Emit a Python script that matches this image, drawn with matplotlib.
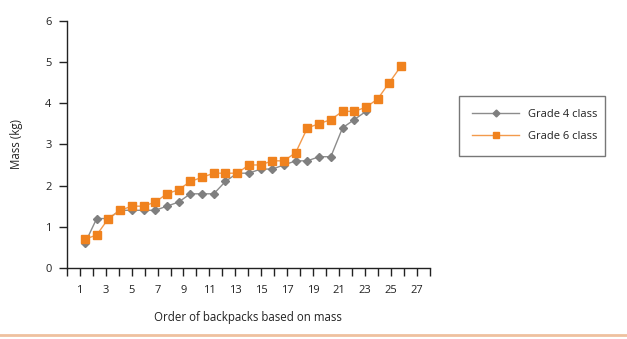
import matplotlib
matplotlib.use("Agg")
import matplotlib.pyplot as plt
from matplotlib.lines import Line2D

plt.rcParams['font.family'] = ['Open Sans', 'DejaVu Sans']

grade4 = [0.6, 1.2, 1.2, 1.4, 1.4, 1.4, 1.4, 1.5, 1.6, 1.8, 1.8, 1.8, 2.1,
          2.3, 2.3, 2.4, 2.4, 2.5, 2.6, 2.6, 2.7, 2.7, 3.4, 3.6, 3.8]
grade6 = [0.7, 0.8, 1.2, 1.4, 1.5, 1.5, 1.6, 1.8, 1.9, 2.1, 2.2, 2.3, 2.3, 2.3,
          2.5, 2.5, 2.6, 2.6, 2.8, 3.4, 3.5, 3.6, 3.8, 3.8, 3.9, 4.1, 4.5, 4.9]
xticks = list(range(0, 29))
xticklabels = [str(t) if t % 2 == 1 else "" for t in xticks]
yticks = [0, 1, 2, 3, 4, 5, 6]
labels = ["Grade 4 class", "Grade 6 class"]

grey_line = "#8c8c8c"
grey_mark = "#7f7f7f"
orange_line = "#f39a4c"
orange_mark = "#f0821e"
txt = "#222222"

fig = plt.figure(figsize=(6.27, 3.39), dpi=100)
ax = fig.add_axes([0.1064, 0.2094, 0.5794, 0.7296])
ax.set_xlim(0, 28)
ax.set_ylim(0, 6)
ax.set_xticks(xticks)
ax.set_xticklabels(xticklabels)
ax.set_yticks(yticks)
for s in ["top", "right"]:
    ax.spines[s].set_visible(False)
for s in ["left", "bottom"]:
    ax.spines[s].set_color("#222222")
    ax.spines[s].set_linewidth(1.0)
ax.tick_params(axis="both", direction="out", length=6, width=1.0,
               color="#222222", labelsize=8, labelcolor=txt)
ax.tick_params(axis="x", pad=6)
ax.tick_params(axis="y", pad=5)
ax.set_xlabel("Order of backpacks based on mass", fontsize=8.3, color=txt, labelpad=11)
ax.set_ylabel("Mass (kg)", fontsize=8.3, color=txt, labelpad=16)

# data drawn on a companion x-scale (the points are not aligned to the ticks)
ax2 = ax.twiny()
ax2.set_xlim(-0.56, 30.47)
ax2.set_ylim(0, 6)
ax2.axis("off")
x4 = list(range(1, len(grade4) + 1))
x6 = list(range(1, len(grade6) + 1))
ax2.plot(x4, grade4, color=grey_line, lw=1.0, marker="D", markersize=4.2,
         markerfacecolor=grey_mark, markeredgecolor=grey_mark, zorder=3)
ax2.plot(x6, grade6, color=orange_line, lw=1.0, marker="s", markersize=5.5,
         markerfacecolor=orange_mark, markeredgecolor=orange_mark, zorder=4)

handles = [
    Line2D([], [], color=grey_line, lw=1.0, marker="D", markersize=3.5,
           markerfacecolor=grey_mark, markeredgecolor=grey_mark),
    Line2D([], [], color=orange_line, lw=1.0, marker="s", markersize=5,
           markerfacecolor=orange_mark, markeredgecolor=orange_mark),
]
leg = fig.legend(handles, labels, loc="upper left",
                 bbox_to_anchor=(0.732, 0.531, 0.233, 0.186), mode="expand",
                 fontsize=8, frameon=True, fancybox=False, handlelength=4.2,
                 handletextpad=0.8, borderaxespad=0, borderpad=1.2,
                 labelspacing=1.0)
leg.get_frame().set_edgecolor("#555555")
leg.get_frame().set_linewidth(1.0)
for t in leg.get_texts():
    t.set_color(txt)

fig.add_artist(Line2D([0, 1], [1 - 334.7 / 339, 1 - 334.7 / 339],
                      transform=fig.transFigure, color="#efc19f", lw=2.0))

fig.savefig("out.png", dpi=100)
